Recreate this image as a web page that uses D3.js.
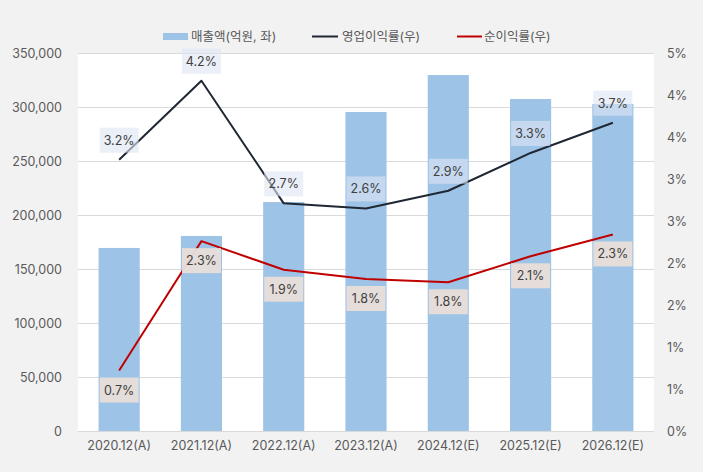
<!DOCTYPE html>
<html><head><meta charset="utf-8">
<script src="https://cdn.jsdelivr.net/npm/d3@7"></script>
<style>
html,body{margin:0;padding:0;background:#f2f2f2;}
svg{display:block;font-family:Inter,"Noto Sans CJK KR",sans-serif;}
</style></head>
<body><svg id="chart" width="703" height="472"></svg>
<script>
const categories = ["2020.12(A)","2021.12(A)","2022.12(A)","2023.12(A)","2024.12(E)","2025.12(E)","2026.12(E)"];
const revenue = [169500, 180600, 212000, 295400, 329600, 307400, 302800];
const opMargin = [3.23, 4.17, 2.71, 2.65, 2.86, 3.31, 3.67];
const netMargin = [0.72, 2.26, 1.92, 1.81, 1.77, 2.08, 2.34];
const leftTicks = [0, 50000, 100000, 150000, 200000, 250000, 300000, 350000];
const rightTicks = [0, 0.5, 1, 1.5, 2, 2.5, 3, 3.5, 4, 4.5];
const rightTickLabels = ["0%","1%","1%","2%","2%","3%","3%","4%","4%","5%"];
const legendLabels = ["매출액(억원, 좌)", "영업이익률(우)", "순이익률(우)"];

const svg = d3.select("#chart");
const L = 78, R = 654, T = 53, B = 431;
const textCol = "#595959";

svg.append("rect").attr("x", 0).attr("y", 0).attr("width", 703).attr("height", 472).attr("fill", "#f2f2f2");
svg.append("rect").attr("x", L).attr("y", T).attr("width", R - L).attr("height", B - T).attr("fill", "#ffffff");

const x = d3.scaleBand().domain(categories).range([L, R]).paddingInner(0.5).paddingOuter(0.25);
const yL = d3.scaleLinear().domain([0, 350000]).range([B, T]);
const yR = d3.scaleLinear().domain([0, 4.5]).range([B, T]);

// gridlines
svg.append("g").selectAll("line").data(leftTicks).join("line")
  .attr("x1", L).attr("x2", R)
  .attr("y1", d => Math.round(yL(d)) + 0.5).attr("y2", d => Math.round(yL(d)) + 0.5)
  .attr("stroke", "#d9d9d9").attr("stroke-width", 1);

// bars
svg.append("g").selectAll("rect").data(revenue).join("rect")
  .attr("x", (d, i) => x(categories[i]))
  .attr("width", x.bandwidth())
  .attr("y", d => yL(d))
  .attr("height", d => yL(0) - yL(d))
  .attr("fill", "#9dc3e6");

// axes
const axL = svg.append("g").attr("transform", `translate(${L},0)`)
  .call(d3.axisLeft(yL).tickValues(leftTicks).tickFormat(d3.format(",")).tickSize(0).tickPadding(16));
axL.select(".domain").remove();
axL.selectAll("text").attr("fill", textCol).attr("font-size", 12.5).attr("font-family", "Inter, sans-serif");

const axR = svg.append("g").attr("transform", `translate(${R},0)`)
  .call(d3.axisRight(yR).tickValues(rightTicks).tickFormat((d, i) => rightTickLabels[i]).tickSize(0).tickPadding(13));
axR.select(".domain").remove();
axR.selectAll("text").attr("fill", textCol).attr("font-size", 12.5).attr("font-family", "Inter, sans-serif");

const axB = svg.append("g").attr("transform", `translate(0,${B})`)
  .call(d3.axisBottom(x).tickSize(0).tickPadding(10));
axB.select(".domain").remove();
axB.selectAll("text").attr("fill", textCol).attr("font-size", 12.5).attr("font-family", "Inter, sans-serif");

// lines
const cx = i => x(categories[i]) + x.bandwidth() / 2;
const lineGen = d3.line().x((d, i) => cx(i)).y(d => yR(d));
svg.append("path").datum(opMargin).attr("d", lineGen)
  .attr("fill", "none").attr("stroke", "#1f2733").attr("stroke-width", 2).attr("stroke-linejoin", "round");
svg.append("path").datum(netMargin).attr("d", lineGen)
  .attr("fill", "none").attr("stroke", "#c00000").attr("stroke-width", 2).attr("stroke-linejoin", "round");

// data labels
function labels(data, dy, fill) {
  const g = svg.append("g").selectAll("g").data(data).join("g")
    .attr("transform", (d, i) => `translate(${cx(i)},${yR(d) + dy})`);
  g.append("rect").attr("x", -19.5).attr("y", -12.5).attr("width", 39).attr("height", 25).attr("fill", fill);
  g.append("text").attr("text-anchor", "middle").attr("dy", "0.36em")
    .attr("font-size", 12.5).attr("fill", "#404040").attr("font-family", "Inter, sans-serif")
    .text(d => d.toFixed(1) + "%");
}
labels(opMargin, -19.5, "rgba(221,229,244,0.62)");
labels(netMargin, 19.5, "rgba(231,222,218,0.96)");

// legend
const lg = svg.append("g").attr("transform", "translate(0,36)");
lg.append("rect").attr("x", 163).attr("y", -3).attr("width", 25).attr("height", 7).attr("fill", "#9dc3e6");
lg.append("line").attr("x1", 312).attr("x2", 338).attr("y1", 0.5).attr("y2", 0.5).attr("stroke", "#1f2733").attr("stroke-width", 2);
lg.append("line").attr("x1", 457).attr("x2", 482).attr("y1", 0.5).attr("y2", 0.5).attr("stroke", "#c00000").attr("stroke-width", 2);
const lx = [191, 342, 484];
lg.selectAll("text").data(legendLabels).join("text")
  .attr("x", (d, i) => lx[i]).attr("y", 0).attr("dy", "0.36em")
  .attr("font-size", 12.5).attr("fill", textCol)
  .attr("font-family", "Inter, 'Noto Sans CJK KR', sans-serif")
  .text(d => d);
</script></body></html>
